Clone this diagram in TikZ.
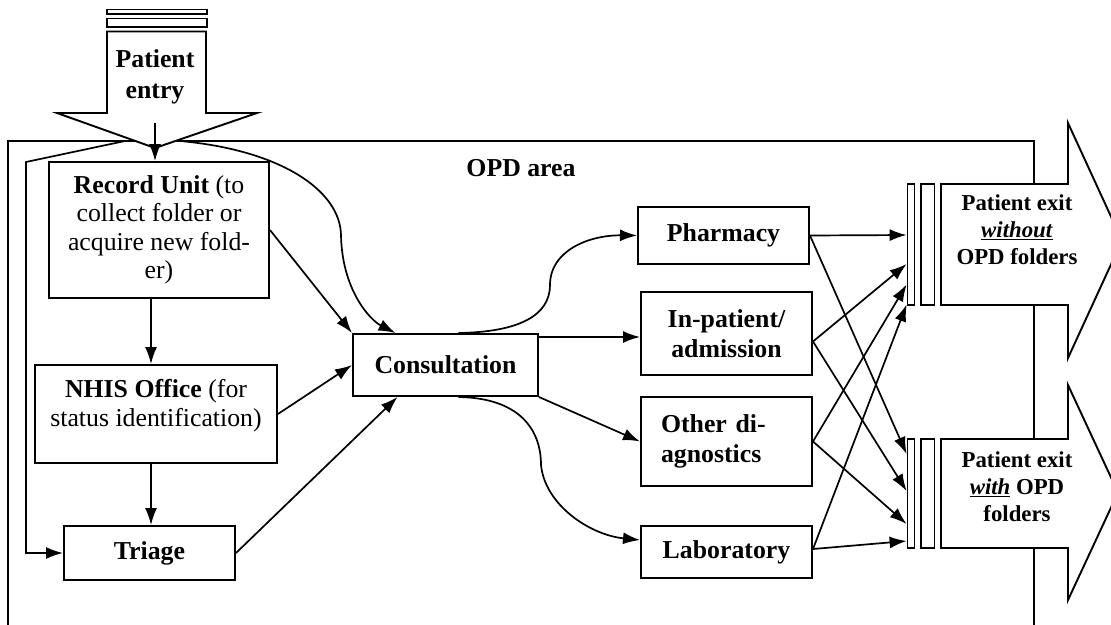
\documentclass[tikz,border=0pt]{standalone}
\usepackage{fontspec}
\setmainfont{Liberation Serif}
\usetikzlibrary{arrows.meta,calc}
\begin{document}
\begin{tikzpicture}[x=1pt,y=-1pt,
  box/.style={draw,line width=2pt,inner sep=0pt,align=center,font=\fontsize{25.8}{28.5}\selectfont},
  bbox/.style={box,font=\fontsize{25.8}{28.5}\selectfont\bfseries},
  conn/.style={line width=1.7pt,-{Latex[length=17pt,width=12pt]}},
  big/.style={draw,line width=1.9pt,fill=white,line join=miter},
  txt/.style={align=center,font=\fontsize{25.8}{28.5}\selectfont\bfseries},
  extxt/.style={align=center,font=\fontsize{22.8}{27}\selectfont\bfseries},
  bar/.style={draw,line width=1.8pt,fill=white,inner sep=0pt}
]
\clip (0,0) rectangle (1111,624);

% OPD area frame
\draw[line width=2pt] (8,640) -- (8,141) -- (1034,141) -- (1034,640);
\node[txt] (opd) at (521,168) {OPD area};

% boxes
\node[box,minimum width=220pt,minimum height=136pt] (record) at (159,230)
  {\textbf{Record Unit} (to\\collect folder or\\acquire new fold-\\er)};
\node[box,minimum width=242pt,minimum height=98pt] (nhis) at (156,414) {};
\node[align=center,inner sep=0pt,font=\fontsize{25.8}{29}\selectfont] (nhistxt) at (156,406)
  {\textbf{NHIS Office} (for\\status identification)};
\node[bbox,minimum width=171pt,minimum height=54pt] (triage) at (149.5,553) {Triage};
\node[bbox,minimum width=185pt,minimum height=62pt] (consult) at (445.5,365) {Consultation};
\node[bbox,minimum width=171pt,minimum height=57pt] (pharm) at (723.5,235.5) {Pharmacy};
\node[bbox,minimum width=171pt,minimum height=83pt,font=\fontsize{25.8}{30.5}\selectfont\bfseries] (inpat) at (726.5,333.5) {In-patient/\\admission};
\node[bbox,minimum width=171pt,minimum height=89pt,text width=131pt,align=left,font=\fontsize{25.8}{30.5}\selectfont\bfseries] (other) at (726.5,441.5) {Other di-\\agnostics};
\node[bbox,minimum width=171pt,minimum height=52pt] (lab) at (726.5,552) {Laboratory};

% lines leaving the entry arrow
\coordinate (loopA) at (125,141);
\coordinate (curveA) at (180,141);
\draw[conn] (loopA) -- (26,162) -- (26,553) -- (triage.west);
\draw[conn] (curveA) .. controls (280,150) and (340,190) .. (341,235)
  .. controls (342,290) and (370,320) .. ([xshift=-50pt]consult.north);

% entry arrow
\draw[big] (107,9.5) rectangle (207,14);
\draw[big] (107,18.5) rectangle (207,27);
\draw[big] (107,31.5) -- (206,31.5) -- (206,113) -- (257,113) -- (155,148) -- (57,113) -- (107,113) -- cycle;
\node[align=center,font=\fontsize{25.8}{31}\selectfont\bfseries] (entry) at (155,77) {Patient\\entry};
\coordinate (entrytip) at (155,148);
\draw[conn] ([yshift=25pt]entrytip) -- (entrytip |- record.north);

% left column flow
\draw[conn] ([xshift=-8pt]record.south) -- ([xshift=-8pt]record.south |- nhis.north);
\draw[conn] ([xshift=-5pt]nhis.south) -- ([xshift=-5pt]nhis.south |- triage.north);
\draw[conn] (record.east) -- (consult.north west);
\draw[conn] (nhis.east) -- (consult.west);
\draw[conn] (triage.east) -- ([xshift=-48pt]consult.south);

% consultation out
\draw[conn] ([xshift=13pt]consult.north) .. controls (520,332) and (550,315) .. (550,285)
  .. controls (550,250) and (590,235) .. (pharm.west);
\draw[conn] ([yshift=-4pt]consult.north east) -- ([yshift=-4pt]consult.north east -| inpat.west);
\draw[conn] (consult.south east) -- (other.west);
\draw[conn] ([xshift=13pt]consult.south) .. controls (520,398) and (541,430) .. (541,465)
  .. controls (545,505) and (590,535) .. ([yshift=12pt]lab.west);

% exit arrows
\draw[big] (941,184) -- (1068,184) -- (1068,123) -- (1122,240.5) -- (1068,358) -- (1068,305) -- (941,305) -- cycle;
\node[bar,minimum width=7pt,minimum height=121pt] (b1a) at (911,244.5) {};
\node[bar,minimum width=13.5pt,minimum height=121pt] (b1b) at (927.75,244.5) {};
\node[extxt] (ex1) at (1017,230) {Patient exit\\\underline{\textit{without}}\\OPD folders};

\draw[big] (941,439) -- (1068,439) -- (1068,385) -- (1118,492.5) -- (1068,600) -- (1068,548) -- (941,548) -- cycle;
\node[bar,minimum width=7pt,minimum height=109pt] (b2a) at (911,493.5) {};
\node[bar,minimum width=13.5pt,minimum height=109pt] (b2b) at (927.75,493.5) {};
\node[extxt] (ex2) at (1017,487) {Patient exit\\\underline{\textit{with}} OPD\\folders};

% connectors into exits
\draw[conn] (pharm.east) -- ($(b1a.west)+(0,-9.5)$);
\draw[conn] ([yshift=-8pt]inpat.east) -- ($(b1a.west)+(0,19.5)$);
\draw[conn] (other.east) -- ($(b1a.west)+(0,40)$);
\draw[conn] ([yshift=3pt]lab.east) -- ($(b1a.west)+(0,60)$);

\draw[conn] (pharm.east) -- ($(b2a.west)+(0,-39.5)$);
\draw[conn] ([yshift=-8pt]inpat.east) -- ($(b2a.west)+(0,-2.5)$);
\draw[conn] (other.east) -- ($(b2a.west)+(0,30.5)$);
\draw[conn] ([yshift=3pt]lab.east) -- ($(b2a.west)+(0,47.5)$);
\end{tikzpicture}
\end{document}
